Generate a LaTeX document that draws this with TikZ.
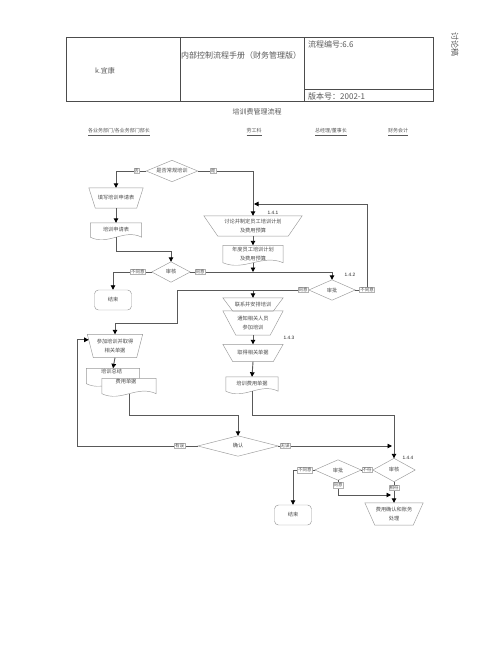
\documentclass[tikz,border=0pt]{standalone}
\usepackage{fontspec}
\setmainfont{Noto Sans CJK SC}
\newfontfamily\numfont{Liberation Sans}
\usetikzlibrary{arrows.meta,calc,backgrounds}
\newcommand\trapdraw[2]{\draw[shpline] (#1.north west) -- (#1.north east) -- ($(#1.south east)+(-#2,0)$) -- ($(#1.south west)+(#2,0)$) -- cycle;}
\newcommand\diadraw[1]{\draw[shpline] (#1.north) -- (#1.east) -- (#1.south) -- (#1.west) -- cycle;}
\newcommand\docdraw[1]{\draw[shpline, fill=white] (#1.south west) -- (#1.north west) -- (#1.north east) -- (#1.south east) .. controls ($(#1.south east)!0.35!(#1.south west)+(0,-9)$) and ($(#1.south east)!0.65!(#1.south west)+(0,9)$) .. (#1.south west) -- cycle;}
\begin{document}
\begin{tikzpicture}[x=1pt,y=-1pt,
  conn/.style={draw=black!65, line width=0.9pt},
  arr/.style={conn, -{Triangle[length=4.5pt,width=4.5pt,color=black]}},
  shpline/.style={draw=black!40, line width=0.45pt},
  box/.style={rectangle, inner sep=0pt, align=center, text=black!70, font=\fontsize{5.2}{9}\selectfont},
  term/.style={box, draw=black!40, line width=0.45pt, rounded corners=4pt},
  lbl/.style={draw=black!30, fill=white, line width=0.4pt, inner sep=0.6pt, text=black!70, font=\fontsize{4.5}{5}\selectfont},
  num/.style={inner sep=0pt, text=black!85, font=\numfont\fontsize{4.8}{5}\selectfont},
  hdr/.style={inner sep=0pt, text=black!65, font=\fontsize{8}{9}\selectfont},
  colh/.style={inner sep=0pt, text=black!65, font=\fontsize{5}{6}\selectfont},
  tbl/.style={draw=black!70, line width=0.6pt}
]
\useasboundingbox (0,0) rectangle (500,648);
\begin{pgfonlayer}{background}
\fill[white] (0,0) rectangle (500,648);
\end{pgfonlayer}

% header table
\draw[tbl] (66,37) rectangle (433,101);
\draw[tbl] (180,37) -- (180,101);
\draw[tbl] (304,37) -- (304,101);
\draw[tbl] (304,89) -- (433,89);
\node[hdr, font=\fontsize{7}{8}\selectfont] (co) at (105,71) {k.宜康};
\node[hdr, anchor=west] (manual) at (181,55) {内部控制流程手册（财务管理版）};
\node[hdr, anchor=west] (code) at (308,44) {流程编号:6.6};
\node[hdr, anchor=west] (ver) at (308,96) {版本号：2002-1};
\node[hdr, rotate=-90] (draft) at (455,44) {讨论稿};
\node[hdr, font=\fontsize{7}{8}\selectfont] (ttl) at (257,112) {培训费管理流程};

% column headers
\node[colh] (c1) at (119,132) {\underline{各业务部门/各业务部门部长}};
\node[colh] (c2) at (254,132) {\underline{劳工科}};
\node[colh] (c3) at (331,132) {\underline{总经理/董事长}};
\node[colh] (c4) at (398,132) {\underline{财务会计}};

% diamonds
\node[box, minimum width=51, minimum height=21] (d1) at (172,171) {是否常规培训}; \diadraw{d1}
\node[box, minimum width=38, minimum height=20] (d2) at (171,272) {审核}; \diadraw{d2}
\node[box, minimum width=46, minimum height=20] (d3) at (332,290) {审批}; \diadraw{d3}
\node[box, minimum width=80, minimum height=20] (d4) at (238,446) {确认}; \diadraw{d4}
\node[box, minimum width=42, minimum height=23] (d5) at (394,470) {审核}; \diadraw{d5}
\node[box, minimum width=46, minimum height=20] (d6) at (338,470) {审批}; \diadraw{d6}

% trapezoids
\node[box, minimum width=54, minimum height=20] (t1) at (116,198) {填写培训申请表}; \trapdraw{t1}{6.5}
\node[box, minimum width=98, minimum height=20] (t2) at (253,226) {讨论并制定员工培训计划\\及费用预算}; \trapdraw{t2}{14}
\node[box, minimum width=60, minimum height=13] (t3) at (253,304.5) {联系并安排培训}; \trapdraw{t3}{10}
\node[box, minimum width=60, minimum height=24] (t4) at (253,323) {通知相关人员\\参加培训}; \trapdraw{t4}{13}
\node[box, minimum width=60, minimum height=17] (t5) at (253,353) {取得相关单据}; \trapdraw{t5}{10}
\node[box, minimum width=55, minimum height=23] (t6) at (115,346) {参加培训并取得\\相关单据}; \trapdraw{t6}{6}
\node[box, minimum width=58, minimum height=22] (t7) at (394,514) {费用确认和账务\\处理}; \trapdraw{t7}{10}

% terminals
\node[term, minimum width=37, minimum height=20] (end1) at (113,300) {结束};
\node[term, minimum width=37, minimum height=20] (end2) at (293,515) {结束};

% documents
\node[box, minimum width=51, minimum height=14] (doc1) at (116,230) {培训申请表};
\node[box, minimum width=60, minimum height=17] (doc2) at (253,254) {年度员工培训计划\\及费用预算};
\node[box, minimum width=52, minimum height=14] (doc3) at (252,384) {培训费用单据};
\node[box, minimum width=53, minimum height=15] (doc4) at (113,376) {};
\node[box, minimum width=54, minimum height=15] (doc5) at (129,386) {};
\node[box, anchor=west] (doc4t) at (101,372) {培训总结};
\node[box] (doc5t) at (126,382) {费用单据};
\begin{pgfonlayer}{background}
\docdraw{doc1}
\docdraw{doc2}
\docdraw{doc3}
\docdraw{doc4}
\docdraw{doc5}
\end{pgfonlayer}

% step numbers
\node[num] (n141) at (273,213) {1.4.1};
\node[num] (n142) at (350,275) {1.4.2};
\node[num] (n143) at (289,338) {1.4.3};
\node[num] (n144) at (408,458) {1.4.4};

% junction coordinates
\coordinate (j1) at (116,251);
\coordinate (r1) at (367,290);
\coordinate (j141) at (254,204);
\coordinate (j2) at (177,290);
\coordinate (j3) at (177,323);
\coordinate (j4) at (394,415);
\coordinate (j6) at (238,415);
\coordinate (j7) at (77,446);
\coordinate (t6in) at ($(t6.north west)+(1.4,5.5)$);
\coordinate (j8) at (392,446);
\coordinate (j9) at (391,495);

% connectors
\draw[arr] (d1.west) -| node[lbl, pos=0.16] {否} (t1.north);
\draw[arr] (d1.east) -| node[lbl, pos=0.14] {是} (t2.north);
\draw[arr] (t1.south) -- (doc1.north);
\draw[arr] (doc1.south) -- (j1) -| (d2.north);
\draw[arr] (d2.west) -| node[lbl, pos=0.18] {不同意} (end1.north);
\draw[arr] (d2.east) -| node[lbl, pos=0.035] {同意} (d3.north);
\draw[arr] (t2.south) -- (doc2.north);
\draw[arr] (doc2.south) -- (doc2.south |- d2.east);
\draw[arr] (d3.east) -- (r1) |- (j141);
\node[lbl] (l142n) at (r1) {不同意};
\draw[conn] (d3.west) -- (j2) -- (j3) -- (j3 -| t6.north);
\draw[arr] (j3 -| t6.north) -- (t6.north);
\node[lbl] (l142y) at (303,290) {同意};
\draw[arr] (t3.north |- d3.west) -- (t3.north);
\draw[arr] (t4.south) -- (t5.north);
\draw[arr] (t5.south) -- (doc3.north);
\draw[arr] (doc3.south) |- (j4) -- (d5.north);
\draw[arr] (t6.south) -- (doc4.north);
\draw[arr] (doc5.south) |- (j6) -- (d4.north);
\draw[arr] (d4.west) -- node[lbl, pos=0.15] {有误} (j7) |- (t6in);
\draw[arr] (d4.east) -- node[lbl, pos=0.06] {无误} (j8);
\draw[conn] (d5.west) -- node[lbl] {不符} (d6.east);
\draw[arr] (d6.west) -| node[lbl, pos=0.23] {不同意} (end2.north);
\draw[arr] (d6.south) |- node[lbl, pos=0.17] {同意} (j9);
\draw[arr] (d5.south) -- node[lbl, pos=0.28] {相符} (t7.north);
\end{tikzpicture}
\end{document}
